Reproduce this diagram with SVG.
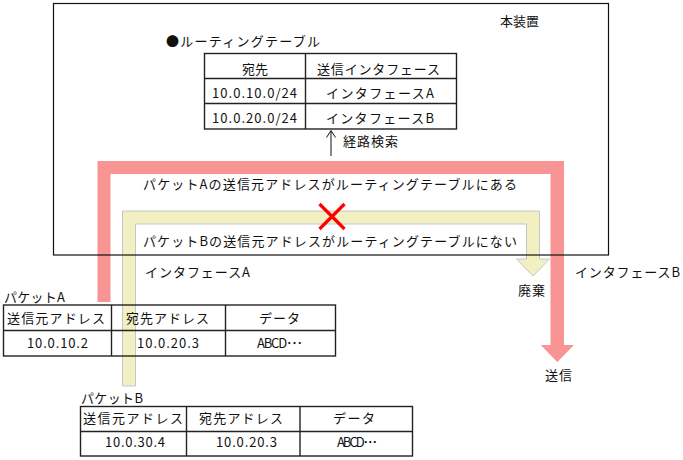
<svg xmlns="http://www.w3.org/2000/svg" width="683" height="460" viewBox="0 0 683 460">
<style>
text{font-family:"Noto Sans CJK JP","Noto Sans",sans-serif;font-size:13px;fill:#111}
.c{text-anchor:middle}
.frame{fill:none;stroke:#111;stroke-width:1.2}
.cell{fill:none;stroke:#222;stroke-width:1.4}
</style>
<g id="connectors">
<polygon id="path-b" points="122.5,386 122.5,211 539.5,211 539.5,259 549.5,259 533,276 516.5,259 526.5,259 526.5,224 135.5,224 135.5,386" fill="#F2F0C2" stroke="#C6C6C6" stroke-width="1"/>
<polygon id="path-a" points="97.5,302 97.5,161 564,161 564,345 574,345 557.3,362 540.7,345 550.5,345 550.5,174 110.5,174 110.5,302" fill="#F99494"/>
<g id="search-arrow" fill="none" stroke="#111" stroke-width="1">
<line x1="331" y1="156" x2="331" y2="131"/>
<polyline points="326.5,137.5 331,130.5 335.5,137.5"/>
</g>
<g id="reject" stroke="#FF0000" stroke-width="3.2" stroke-linecap="butt">
<line x1="319.5" y1="204" x2="344.5" y2="229"/>
<line x1="344.5" y1="204" x2="319.5" y2="229"/>
</g>
</g>
<g id="device">
<rect class="frame" x="53.5" y="3.5" width="555" height="251.5"/>
<text x="500" y="26">本装置</text>
<text x="143" y="189" textLength="374" lengthAdjust="spacing">パケットAの送信元アドレスがルーティングテーブルにある</text>
<text x="143" y="246" textLength="374" lengthAdjust="spacing">パケットBの送信元アドレスがルーティングテーブルにない</text>
</g>
<g id="routing-table">
<text x="166" y="46" textLength="154" lengthAdjust="spacing">●ルーティングテーブル</text>
<rect class="cell" x="204.5" y="53.5" width="252" height="75.5"/>
<line class="cell" x1="204.5" y1="78.5" x2="456.5" y2="78.5"/>
<line class="cell" x1="204.5" y1="103.5" x2="456.5" y2="103.5"/>
<line class="cell" x1="305.5" y1="53.5" x2="305.5" y2="129"/>
<text class="c" x="255" y="74">宛先</text>
<text x="317" y="74" textLength="123" lengthAdjust="spacing">送信インタフェース</text>
<text x="212" y="98" textLength="85" lengthAdjust="spacing">10.0.10.0/24</text>
<text x="212" y="123" textLength="85" lengthAdjust="spacing">10.0.20.0/24</text>
<text x="326" y="98" textLength="108" lengthAdjust="spacing">インタフェースA</text>
<text x="326" y="123" textLength="108" lengthAdjust="spacing">インタフェースB</text>
<text x="343" y="146" textLength="55" lengthAdjust="spacing">経路検索</text>
</g>
<g id="label-if-a"><text x="145" y="277" textLength="105" lengthAdjust="spacing">インタフェースA</text></g>
<g id="label-if-b"><text x="575" y="277" textLength="105" lengthAdjust="spacing">インタフェースB</text></g>
<g id="label-discard"><text x="518" y="295" textLength="27" lengthAdjust="spacing">廃棄</text></g>
<g id="label-send"><text x="545" y="380" textLength="27" lengthAdjust="spacing">送信</text></g>
<g id="packet-a">
<text x="4" y="302" textLength="61" lengthAdjust="spacing">パケットA</text>
<rect class="cell" x="3.5" y="305" width="332" height="51"/>
<line class="cell" x1="3.5" y1="330.5" x2="335.5" y2="330.5"/>
<line class="cell" x1="111.5" y1="305" x2="111.5" y2="356"/>
<line class="cell" x1="225.5" y1="305" x2="225.5" y2="356"/>
<text x="7" y="323" textLength="98" lengthAdjust="spacing">送信元アドレス</text>
<text x="126" y="323" textLength="83" lengthAdjust="spacing">宛先アドレス</text>
<text x="259" y="323" textLength="41" lengthAdjust="spacing">データ</text>
<text x="27" y="348" textLength="61" lengthAdjust="spacing">10.0.10.2</text>
<text x="137" y="348" textLength="62" lengthAdjust="spacing">10.0.20.3</text>
<text x="257" y="348" textLength="46" lengthAdjust="spacing">ABCD･･･</text>
</g>
<g id="packet-b">
<text x="81" y="403" textLength="62" lengthAdjust="spacing">パケットB</text>
<rect class="cell" x="80.5" y="406.5" width="332" height="49.5"/>
<line class="cell" x1="80.5" y1="431.5" x2="412.5" y2="431.5"/>
<line class="cell" x1="186.5" y1="406.5" x2="186.5" y2="456"/>
<line class="cell" x1="300" y1="406.5" x2="300" y2="456"/>
<text x="83" y="423" textLength="100" lengthAdjust="spacing">送信元アドレス</text>
<text x="199" y="423" textLength="84" lengthAdjust="spacing">宛先アドレス</text>
<text x="333" y="423" textLength="42" lengthAdjust="spacing">データ</text>
<text x="105" y="447" textLength="60" lengthAdjust="spacing">10.0.30.4</text>
<text x="216" y="447" textLength="61" lengthAdjust="spacing">10.0.20.3</text>
<text x="337" y="447" textLength="41" lengthAdjust="spacing">ABCD･･･</text>
</g>
</svg>
